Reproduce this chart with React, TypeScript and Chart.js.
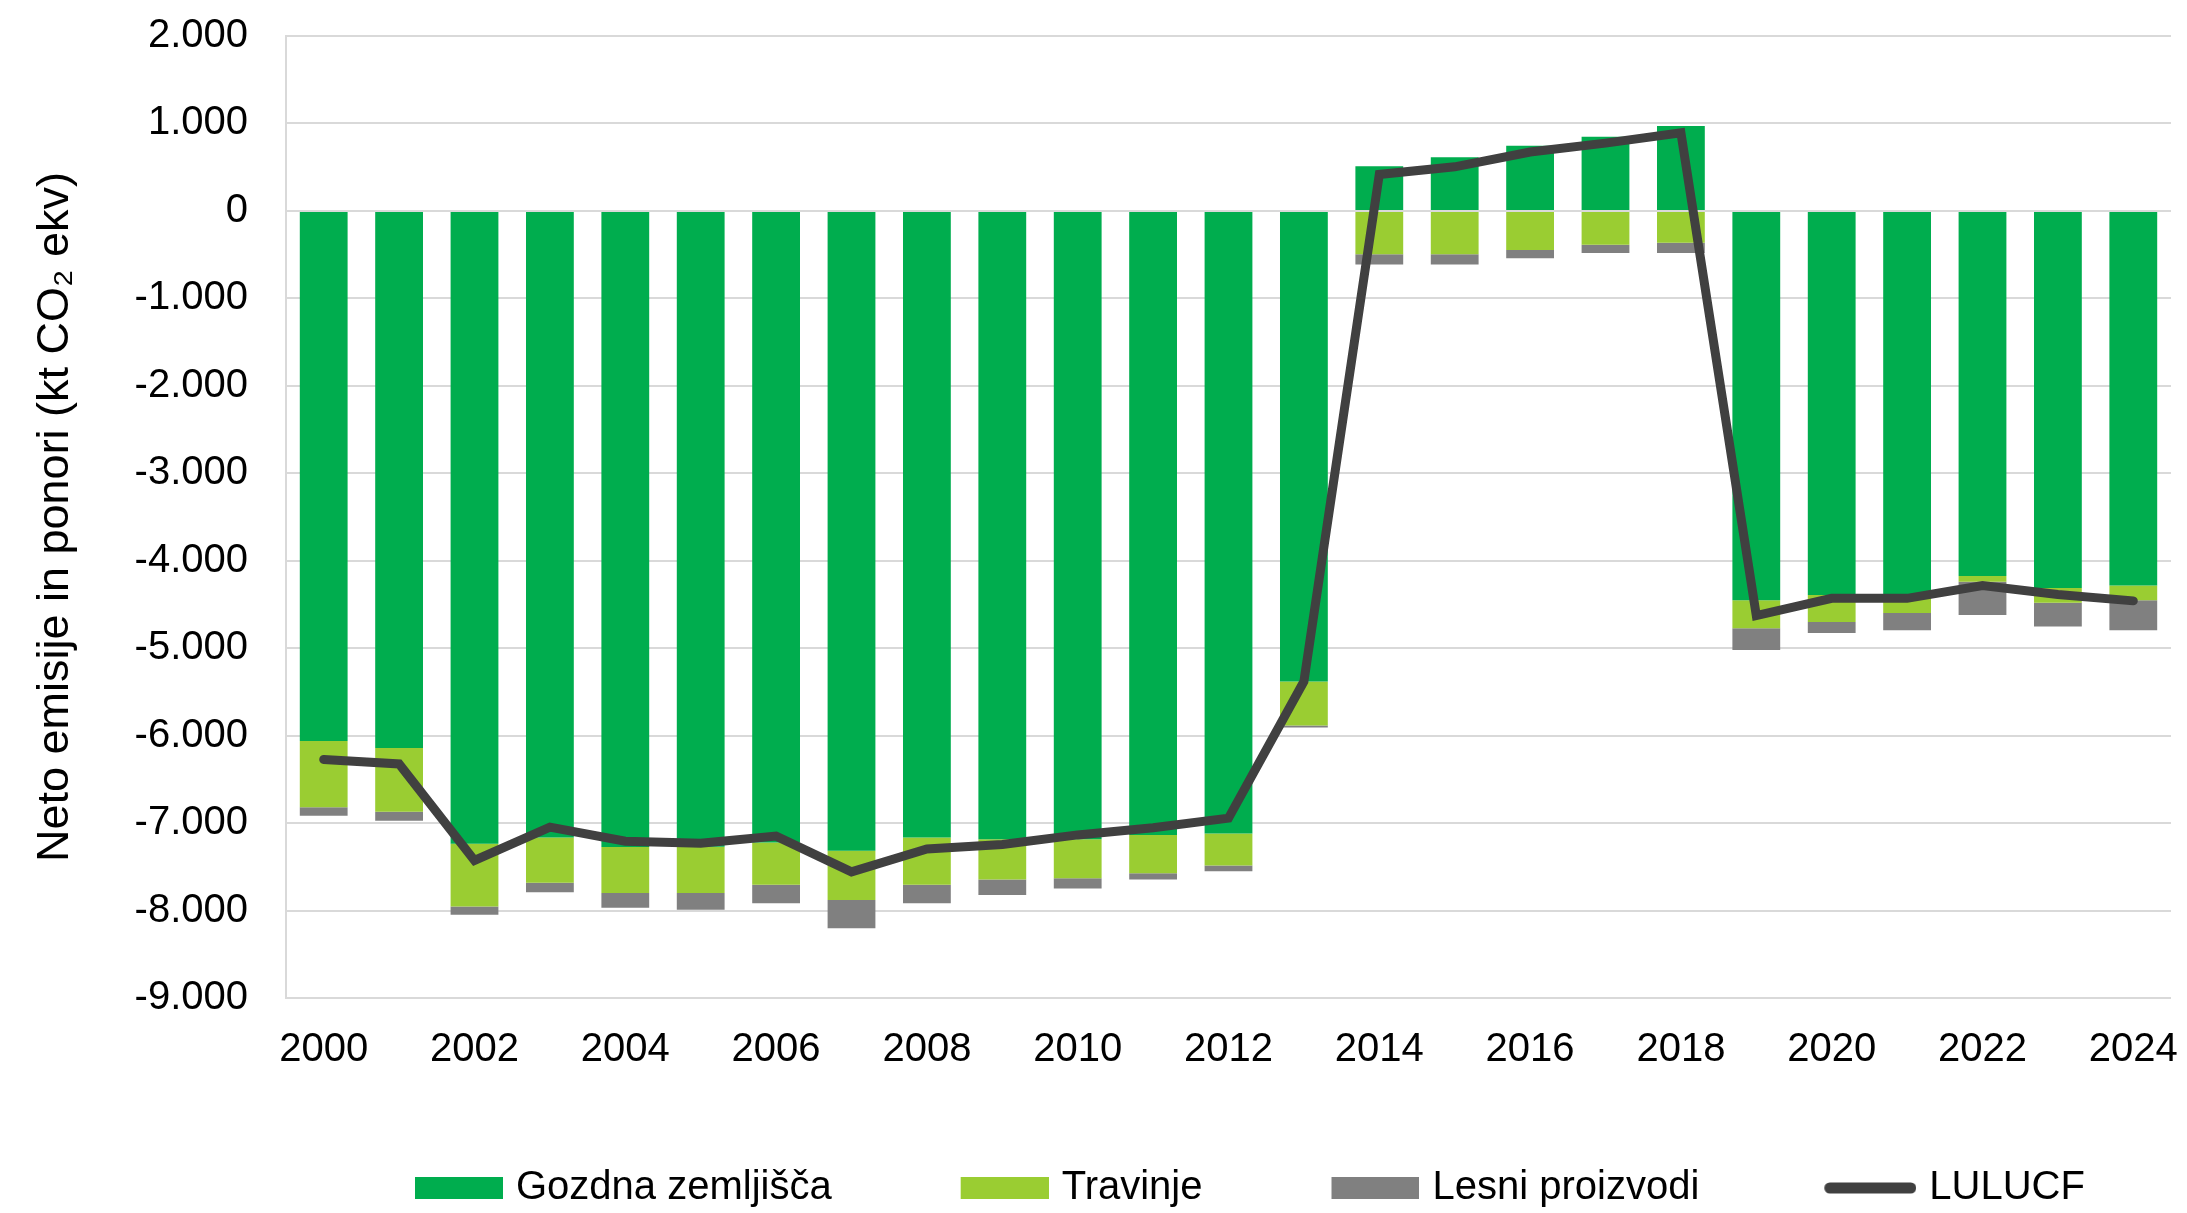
import React, { useEffect, useRef } from 'react';
import { Chart, registerables } from 'chart.js';

Chart.register(...registerables);

const years = ['2000', '2001', '2002', '2003', '2004', '2005', '2006', '2007', '2008', '2009', '2010', '2011', '2012', '2013', '2014', '2015', '2016', '2017', '2018', '2019', '2020', '2021', '2022', '2023', '2024'];

const gozdna = [-6060, -6140, -7237, -7164, -7273, -7270, -7222, -7317, -7164, -7186, -7186, -7135, -7120, -5380, 512, 614, 746, 848, 972, -4452, -4393, -4408, -4174, -4313, -4284];
const travinje = [-760, -731, -716, -519, -527, -530, -483, -563, -541, -460, -446, -438, -365, -505, -497, -497, -446, -387, -365, -321, -307, -190, -66, -168, -168];
const lesni = [-95, -103, -95, -109, -168, -190, -212, -322, -212, -176, -117, -73, -66, -21, -117, -117, -95, -95, -117, -249, -125, -197, -380, -270, -343];
const lulucf = [-6272, -6323, -7427, -7047, -7208, -7230, -7149, -7558, -7295, -7244, -7135, -7054, -6944, -5380, 417, 504, 673, 775, 892, -4627, -4430, -4430, -4284, -4386, -4459];

const seriesNames = ['Gozdna zemljišča', 'Travinje', 'Lesni proizvodi', 'LULUCF'];
const seriesColors = ['#00AD4E', '#9ACD32', '#808080', '#404040'];
const yTitle = 'Neto emisije in ponori (kt CO₂ ekv)';

const FONT = "'Liberation Sans', Arial, sans-serif";
const LEGEND_W = 200;

function fmt(v: number): string {
  const s = Math.abs(Math.round(v)).toString().replace(/\B(?=(\d{3})+(?!\d))/g, '.');
  return (v < 0 ? '-' : '') + s;
}

// legend icon: transparent lead-in followed by the swatch at the right end
function makeIcon(color: string, isLine: boolean): HTMLCanvasElement {
  const sw = 88;
  const h = 22;
  const c = document.createElement('canvas');
  c.width = LEGEND_W + 14;
  c.height = h;
  const lead = c.width - sw;
  const g = c.getContext('2d')!;
  if (isLine) {
    g.strokeStyle = color;
    g.lineWidth = 11;
    g.lineCap = 'round';
    g.beginPath();
    g.moveTo(lead - 4 + 5.5, h / 2);
    g.lineTo(c.width - 5.5, h / 2);
    g.stroke();
  } else {
    g.fillStyle = color;
    g.fillRect(lead, 0, sw, h);
  }
  return c;
}

export default function App() {
  const ref = useRef<HTMLCanvasElement>(null);

  useEffect(() => {
    document.body.style.margin = '0';
    Chart.defaults.font.family = FONT;
    const icons = seriesColors.map((col, i) => makeIcon(col, i === 3));
    const canvas = ref.current!;
    const chart = new Chart(canvas, {
      type: 'bar',
      data: {
        labels: years,
        datasets: [
          { label: seriesNames[0], data: gozdna, backgroundColor: seriesColors[0], borderWidth: 0, stack: 'bars', order: 1 },
          { label: seriesNames[1], data: travinje, backgroundColor: seriesColors[1], borderWidth: 0, stack: 'bars', order: 1 },
          { label: seriesNames[2], data: lesni, backgroundColor: seriesColors[2], borderWidth: 0, stack: 'bars', order: 1 },
          {
            type: 'line', label: seriesNames[3], data: lulucf, borderColor: seriesColors[3], backgroundColor: seriesColors[3],
            borderWidth: 9, pointRadius: 0, borderCapStyle: 'round', borderJoinStyle: 'miter', tension: 0,
            stack: 'line', order: 0,
          } as any,
        ],
      },
      options: {
        animation: false,
        responsive: false,
        maintainAspectRatio: false,
        layout: { padding: { top: 36, right: 16, bottom: -5, left: 0 } },
        datasets: { bar: { categoryPercentage: 1, barPercentage: 0.634 } } as any,
        scales: {
          x: {
            stacked: true,
            offset: true,
            grid: { display: false },
            border: { display: false },
            ticks: {
              autoSkip: false,
              maxRotation: 0,
              minRotation: 0,
              padding: 20,
              color: '#000',
              font: { size: 40, family: FONT },
              callback: (_v: any, i: number) => (i % 2 === 0 ? years[i] : ''),
            },
            afterFit: (s: any) => { s.height = 160; s.paddingLeft = 0; s.paddingRight = 0; },
          } as any,
          y: {
            stacked: true,
            min: -9000,
            max: 2000,
            ticks: {
              stepSize: 1000,
              padding: 38,
              color: '#000',
              font: { size: 40, family: FONT },
              callback: (v: any) => fmt(Number(v)),
            },
            grid: { color: '#d9d9d9', lineWidth: 2, drawTicks: false },
            border: { display: true, color: '#d9d9d9', width: 2 },
            title: {
              display: true,
              text: yTitle,
              color: '#000',
              font: { size: 45, family: FONT },
              padding: { top: 29, bottom: 0 },
            },
            afterFit: (s: any) => { s.width = 286; s.paddingTop = 0; s.paddingBottom = 0; },
          } as any,
        },
        plugins: {
          tooltip: { enabled: false },
          legend: {
            position: 'bottom',
            fullSize: false,
            align: 'start',
            labels: {
              usePointStyle: true,
              pointStyleWidth: LEGEND_W,
              boxHeight: 22,
              padding: 10,
              color: '#000',
              font: { size: 40, family: FONT },
              sort: (a: any, b: any) => a.datasetIndex - b.datasetIndex,
              generateLabels: (c: any) => {
                const items = (Chart.defaults.plugins.legend.labels as any).generateLabels(c);
                return items.map((it: any) => ({
                  ...it,
                  pointStyle: icons[it.datasetIndex],
                  lineWidth: 0,
                }));
              },
            },
          } as any,
        },
      },
    });
    return () => chart.destroy();
  }, []);

  return (
    <div style={{ width: 2187, height: 1213 }}>
      <canvas ref={ref} width={2187} height={1213} style={{ display: 'block', width: 2187, height: 1213 }} />
    </div>
  );
}
